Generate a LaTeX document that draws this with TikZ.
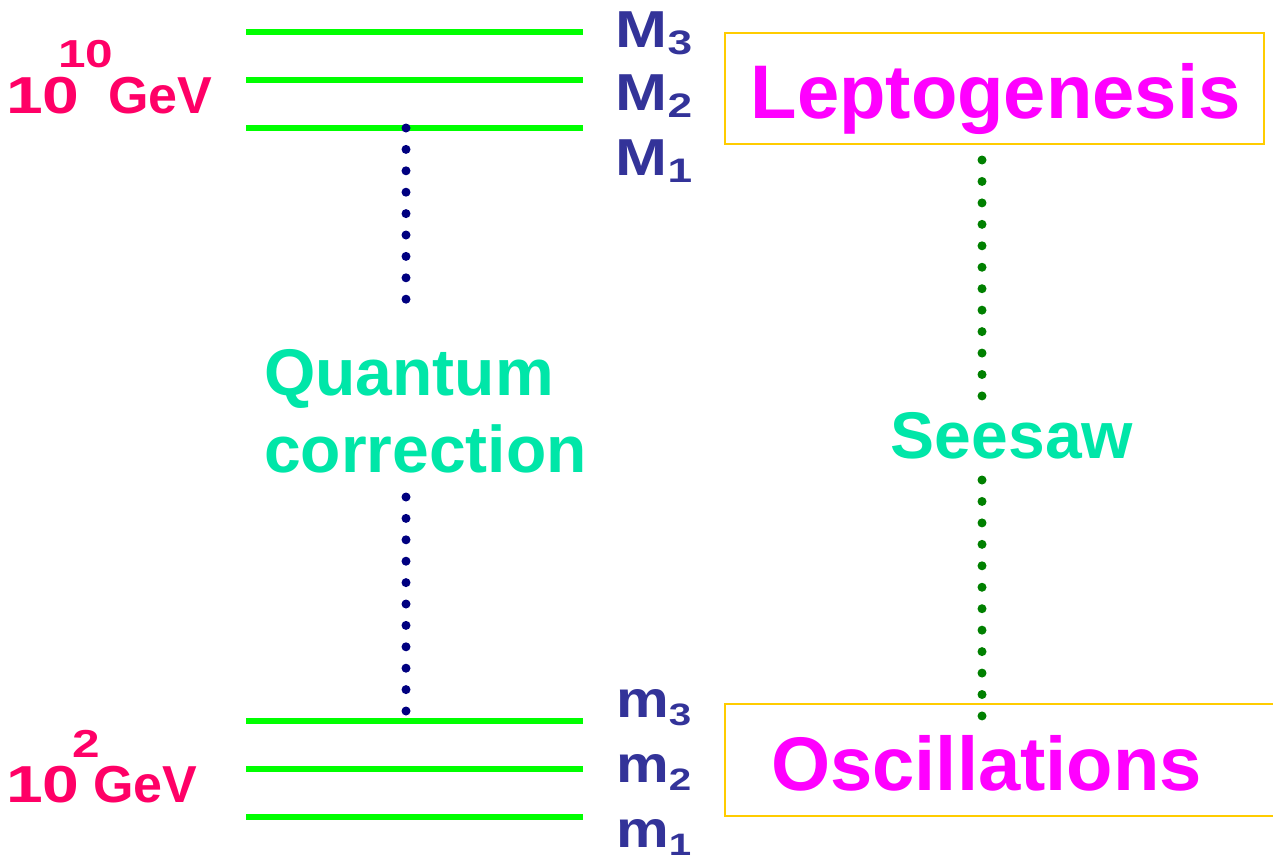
\documentclass[tikz,border=0pt]{standalone}
\usepackage{graphicx}
\usepackage{fontspec}
\setmainfont{Liberation Sans}
\definecolor{pinkred}{HTML}{FF0066}
\definecolor{labblue}{HTML}{333399}
\definecolor{tealtxt}{HTML}{00E6A8}
\definecolor{magtxt}{HTML}{FF00FF}
\definecolor{goldbox}{HTML}{FFCC00}
\definecolor{limeline}{HTML}{00FF00}
\definecolor{navydot}{HTML}{000080}
\definecolor{greendot}{HTML}{008000}
\newcommand{\digw}[1]{\scalebox{1.27}[1]{#1}}
\newcommand{\bigMlab}[1]{{\fontsize{52}{52}\selectfont\scalebox{1.2}[1]{M}}{\fontsize{34}{34}\selectfont\raisebox{-7pt}{\scalebox{1.3}[1]{#1}}}}
\newcommand{\smallmlab}[1]{{\fontsize{52}{52}\selectfont\scalebox{1.14}[1]{m}}{\fontsize{31}{31}\selectfont\raisebox{-8pt}{\scalebox{1.3}[1]{#1}}}}
\begin{document}
\begin{tikzpicture}[x=1pt,y=-1pt,
  lvl/.style={draw=limeline, line width=6pt},
  bluedots/.style={draw=navydot, line width=9pt, line cap=round, dash pattern=on 0pt off 21.4pt},
  greendots/.style={draw=greendot, line width=9pt, line cap=round, dash pattern=on 0pt off 21.45pt},
  boxstyle/.style={draw=goldbox, line width=2.5pt, inner sep=0pt},
  bigtext/.style={font=\bfseries\fontsize{76}{76}\selectfont, text=magtxt, inner sep=0pt, anchor=base},
  midtext/.style={font=\bfseries\fontsize{66}{66}\selectfont, text=tealtxt, inner sep=0pt},
  gevtext/.style={font=\bfseries\fontsize{52}{52}\selectfont, text=pinkred, inner sep=0pt, anchor=base west},
  exptext/.style={font=\bfseries\fontsize{39}{39}\selectfont, text=pinkred, inner sep=0pt, anchor=base west},
  masslab/.style={font=\bfseries, text=labblue, inner sep=0pt, anchor=base west}
]
\useasboundingbox (0,0) rectangle (1273,854);

% heavy levels
\coordinate (M3l) at (246,32);  \coordinate (M3r) at (583,32);
\coordinate (M2l) at (246,80);  \coordinate (M2r) at (583,80);
\coordinate (M1l) at (246,128); \coordinate (M1r) at (583,128);
\draw[lvl] (M3l) -- (M3r);
\draw[lvl] (M2l) -- (M2r);
\draw[lvl] (M1l) -- (M1r);
% light levels
\coordinate (m3l) at (246,721); \coordinate (m3r) at (583,721);
\coordinate (m2l) at (246,769); \coordinate (m2r) at (583,769);
\coordinate (m1l) at (246,817); \coordinate (m1r) at (583,817);
\draw[lvl] (m3l) -- (m3r);
\draw[lvl] (m2l) -- (m2r);
\draw[lvl] (m1l) -- (m1r);

% mass labels
\node[masslab] (M3) at (615.5,47) {\bigMlab{3}};
\node[masslab] (M2) at (615.5,110) {\bigMlab{2}};
\node[masslab] (M1) at (615.5,175) {\bigMlab{1}};
\node[masslab] (m3) at (616,717) {\smallmlab{3}};
\node[masslab] (m2) at (616,782) {\smallmlab{2}};
\node[masslab] (m1) at (616,847) {\smallmlab{1}};

% energy scales
\node[gevtext] (ten1) at (6,113) {\digw{10}};
\node[exptext] (exp1) at (58,67) {\digw{10}};
\node[gevtext] (gev1) at (108,113) {GeV};
\node[gevtext] (ten2) at (6,802) {\digw{10}};
\node[exptext] (exp2) at (72.5,757) {\digw{2}};
\node[gevtext] (gev2) at (93,802) {GeV};

% quantum correction
\node[midtext, anchor=base west] (quant) at (264,395) {Quantum};
\node[midtext, anchor=base west] (corr) at (264,472) {correction};
\coordinate (qa) at (406,128);
\coordinate (qb) at (406,299.6);
\coordinate (qc) at (406,497);
\coordinate (qd) at (406,712.6);
\draw[bluedots] (qa) -- (qb);
\draw[bluedots] (qc) -- (qd);

% boxes
\node[boxstyle, minimum width=539pt, minimum height=111pt] (lepbox) at (994.5,88.5) {};
\node[bigtext] (lep) at (995.5,118) {Leptogenesis};
\node[boxstyle, minimum width=565pt, minimum height=112pt] (oscbox) at (1007.5,760) {};
\node[bigtext] (osc) at (986.5,790) {Oscillations};

% seesaw
\node[midtext, anchor=base] (see) at (1012,458) {Seesaw};
\coordinate (sa) at (982,160);
\coordinate (sb) at (982,396.6);
\coordinate (sc) at (982,480);
\coordinate (sd) at (982,716.6);
\draw[greendots] (sa) -- (sb);
\draw[greendots] (sc) -- (sd);
\end{tikzpicture}
\end{document}
